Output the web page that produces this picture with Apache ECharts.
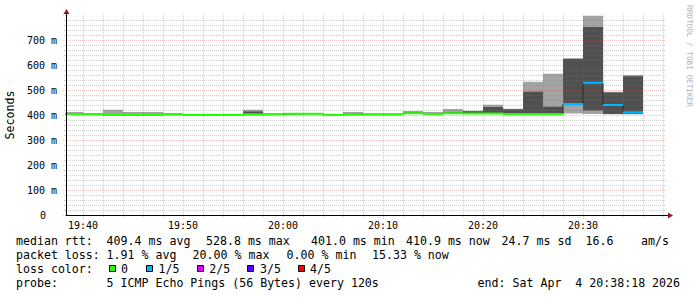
<!DOCTYPE html>
<html><head><meta charset="utf-8">
<script src="https://cdn.jsdelivr.net/npm/echarts@6/dist/echarts.min.js"></script>
<style>html,body{margin:0;padding:0;background:#fff}#c{width:697px;height:297px}</style>
</head><body><div id="c"></div>
<script>
// ---- data ----
const axisStart = '19:38:18';
const axisEnd = '20:38:18';
const binMinutes = 2;
const binStarts = ['19:38','19:40','19:42','19:44','19:46','19:48','19:50','19:52','19:54','19:56',
  '19:58','20:00','20:02','20:04','20:06','20:08','20:10','20:12','20:14','20:16',
  '20:18','20:20','20:22','20:24','20:26','20:28','20:30','20:32','20:34'];
const pingMin   = [402,402,400,400,400,402,400,400,400,401,402,404,404,400,402,402,402,405,403,405,404,404,402,402,402,406,404,403,403];
const ping2     = [403,403,401,401,401,403,401,401,401,402,402,405,405,401,403,403,403,406,404,406,405,405,403,403,403,442,418,404,405];
const medianRtt = [404,404,401,401,401,404,401,401,401,403,403,405,405,401,403,403,403,407,404,407,406,406,404,404,404,444,528.8,440,410.9];
const ping4     = [406,404,404,403,403,404,401,401,401,414,404,406,406,402,405,404,404,409,406,410,415,432,423,493,433,625,752,490,555];
const pingMax   = [412,405,421,412,412,405,402,402,402,421,405,406,406,402,412,404,404,416,412,424,417,441,425,533,565,626,797,493,560];
const lossCount = [0,0,0,0,0,0,0,0,0,0,0,0,0,0,0,0,0,0,0,0,0,0,0,0,0,1,1,1,1];
const yMax = 800;
const yStep = 100;
const lossLabels = ['0','1/5','2/5','3/5','4/5'];
const lossColors = ['#26ff00','#00b8ff','#dd00ff','#5e00ff','#ff0000'];
const legendLine1 = ['median rtt:','409.4 ms avg','528.8 ms max','401.0 ms min','410.9 ms now','24.7 ms sd','16.6','am/s'];
const legendLine2 = ['packet loss:','1.91 % avg','20.00 % max','0.00 % min','15.33 % now'];
const legendLine3Title = 'loss color:';
const legendLine4 = ['probe:','5 ICMP Echo Pings (56 Bytes) every 120s','end: Sat Apr  4 20:38:18 2026'];
const yTitle = 'Seconds';
const watermark = 'RRDTOOL / TOBI OETIKER';

// ---- helpers ----
const toMin = s => { const p = s.split(':').map(Number); return p[0]*60 + p[1] + (p[2]||0)/60; };
const pad2 = n => (n<10?'0':'') + n;
const fmtTime = v => { const r = Math.round(v); return pad2(Math.floor(r/60)) + ':' + pad2(r%60); };
const FONT = '"DejaVu Sans Mono", monospace';
const LIGHT = '#a3a3a3', DARK = '#505050';
const MAJ = 'rgba(200,60,60,0.3)', MIN = 'rgba(120,120,120,0.35)';
const ARROW = '#8b1a1a';

const xMin = toMin(axisStart), xMax = toMin(axisEnd);
const smokeData = binStarts.map((s,i) => [toMin(s), pingMin[i], ping2[i], medianRtt[i], ping4[i], pingMax[i], lossCount[i]]);
const medianStep = binStarts.map((s,i) => [toMin(s), medianRtt[i]]);
medianStep.push([toMin(binStarts[binStarts.length-1]) + binMinutes, medianRtt[medianRtt.length-1]]);
const vGrid = [];
for (let t = Math.ceil(xMin/binMinutes)*binMinutes; t <= xMax; t += binMinutes) vGrid.push([t]);

function csRect(params){ const c = params.coordSys; return {x:c.x, y:c.y, width:c.width, height:c.height}; }

function renderSmoke(params, api){
  const cs = csRect(params);
  const t0 = api.value(0), t1 = t0 + binMinutes;
  const band = (lo, hi, fill) => {
    const a = api.coord([t0, hi]), b = api.coord([t1, lo]);
    const r = echarts.graphic.clipRectByRect({x:a[0], y:a[1], width:b[0]-a[0], height:b[1]-a[1]}, cs);
    return r ? {type:'rect', shape:r, style:{fill:fill}} : null;
  };
  return {type:'group', children:[band(api.value(1), api.value(5), LIGHT), band(api.value(2), api.value(4), DARK)].filter(Boolean)};
}
function renderMedian(params, api){
  const cs = csRect(params);
  const t0 = api.value(0), t1 = t0 + binMinutes;
  const a = api.coord([t0, api.value(3)]), b = api.coord([t1, api.value(3)]);
  const x0 = Math.max(a[0], cs.x), x1 = Math.min(b[0], cs.x + cs.width);
  return {type:'line', shape:{x1:x0, y1:a[1], x2:x1, y2:b[1]}, style:{stroke:lossColors[api.value(6)], lineWidth:2}};
}
function renderVGrid(params, api){
  const t = api.value(0);
  const major = Math.abs(t/10 - Math.round(t/10)) < 1e-6;
  const p0 = api.coord([t, 0]), p1 = api.coord([t, yMax]);
  const x = Math.round(p0[0]) + 0.5;
  return {type:'line', shape:{x1:x, y1:p1[1]-1, x2:x, y2:p0[1] + (major?4:2)},
          style:{stroke: major?MAJ:MIN, lineWidth:1, lineDash:[1,1]}};
}

const chart = echarts.init(document.getElementById('c'), null, {renderer:'svg'});

const graphics = [];
const txt = (x, y, s, extra) => graphics.push(Object.assign({type:'text', x:x, y:y,
  style:{text:s, font:'11.6px ' + FONT, fill:'#000', align:'left', verticalAlign:'middle'}}, extra||{}));
const l1x = [16,106.6,206,311,406,501.6,585.6,641];
legendLine1.forEach((s,i) => txt(l1x[i], 241, s));
const l2x = [16,106.6,192.6,286.6,372];
legendLine2.forEach((s,i) => txt(l2x[i], 255, s));
txt(16, 269, legendLine3Title);
const boxX = [109,145.7,196.7,247.3,297.7];
const lblX = [121,158.6,209.3,260,310];
lossLabels.forEach((s,i) => {
  graphics.push({type:'rect', shape:{x:Math.round(boxX[i])+0.5, y:265.5, width:6, height:6},
    style:{fill:lossColors[i], stroke:'#000', lineWidth:1}});
  txt(lblX[i], 269, s);
});
const l4x = [16,106.6,477.6];
legendLine4.forEach((s,i) => txt(l4x[i], 283, s));
graphics.push({type:'text', x:689, y:5, rotation:-Math.PI/2,
  style:{text:watermark, font:'7.7px ' + FONT, fill:'#b0b0b0', align:'left', verticalAlign:'middle'}});

const option = {
  animation:false,
  backgroundColor:'#ffffff',
  grid:{left:66, top:15, width:600, height:200, containLabel:false, outerBoundsMode:'none'},
  xAxis:{
    type:'value', min:xMin, max:xMax, splitNumber:6,
    axisLine:{show:true, lineStyle:{color:'#000', width:1}},
    axisTick:{show:false}, splitLine:{show:false},
    axisLabel:{show:true, showMinLabel:false, showMaxLabel:false, formatter:fmtTime,
      fontFamily:FONT, fontSize:10, color:'#000', margin:5}
  },
  yAxis:{
    type:'value', min:0, max:yMax, interval:yStep, z:5,
    name:yTitle, nameLocation:'middle', nameGap:49,
    nameTextStyle:{fontFamily:FONT, fontSize:11.6, color:'#000'},
    axisLine:{show:true, lineStyle:{color:'#000', width:1}},
    axisTick:{show:true, length:4, lineStyle:{color:MAJ, type:[1,1]}},
    minorTick:{show:true, splitNumber:5, length:2, lineStyle:{color:MIN}},
    splitLine:{show:true, showMinLine:false, showMaxLine:false, lineStyle:{color:MAJ, type:[1,1], width:1}},
    minorSplitLine:{show:true, lineStyle:{color:MIN, type:[1,1], width:1}},
    axisLabel:{showMaxLabel:false, fontFamily:FONT, fontSize:10, color:'#000', margin:9,
      formatter: v => v === 0 ? '{z|0}' : v + ' m',
      rich:{z:{fontFamily:FONT, fontSize:10, color:'#000', padding:[0,11,0,0]}}}
  },
  graphic:graphics,
  series:[
    {type:'custom', name:'smoke', z:1, data:smokeData, renderItem:renderSmoke, silent:true},
    {type:'line', name:'median', z:2, data:medianStep, step:'end', showSymbol:false, symbol:'none',
      lineStyle:{color:'#202020', width:1}, silent:true},
    {type:'custom', name:'medianLoss', z:3, data:smokeData, renderItem:renderMedian, silent:true},
    {type:'custom', name:'vgrid', z:6, data:vGrid, renderItem:renderVGrid, silent:true, clip:false}
  ]
};
chart.setOption(option);

// axis arrows (decorations placed from the axis scale)
const pEnd = chart.convertToPixel({gridIndex:0}, [xMax, 0]);
const pTop = chart.convertToPixel({gridIndex:0}, [xMin, yMax]);
const ox = Math.round(pTop[0]) + 0.5, oy = Math.round(pEnd[1]) + 0.5;
const xr = Math.round(pEnd[0]), yt = Math.round(pTop[1]);
graphics.push({type:'line', shape:{x1:xr, y1:oy, x2:xr+3, y2:oy}, style:{stroke:'#000', lineWidth:1}});
graphics.push({type:'polygon', shape:{points:[[xr+2, oy-3],[xr+7, oy],[xr+2, oy+3]]}, style:{fill:ARROW}});
graphics.push({type:'line', shape:{x1:ox, y1:yt, x2:ox, y2:yt-2}, style:{stroke:'#000', lineWidth:1}});
graphics.push({type:'polygon', shape:{points:[[ox-3, yt-1],[ox, yt-6],[ox+3, yt-1]]}, style:{fill:ARROW}});
chart.setOption({graphic:graphics});
</script></body></html>
